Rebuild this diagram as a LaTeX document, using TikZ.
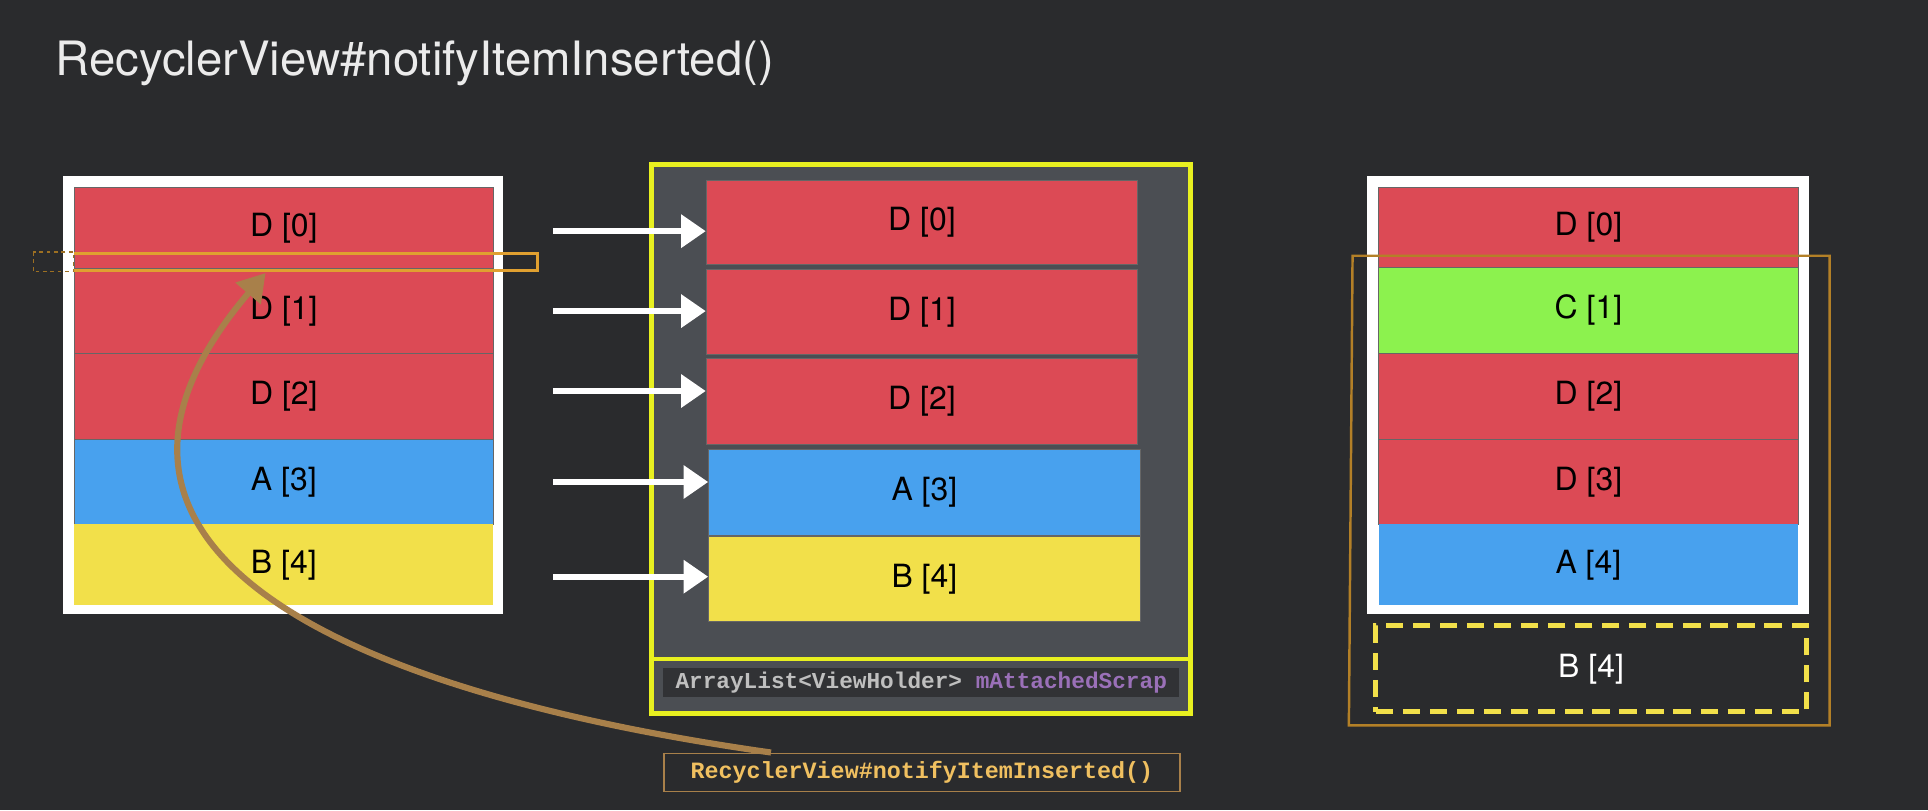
\documentclass[tikz,border=0pt]{standalone}
\usepackage{fontspec}
\setmainfont{TeX Gyre Heros}
\setmonofont{Liberation Mono}
\usetikzlibrary{arrows.meta}
\definecolor{bg}{HTML}{2A2B2D}
\definecolor{rd}{HTML}{DC4A55}
\definecolor{bl}{HTML}{48A1EE}
\definecolor{yl}{HTML}{F2E04A}
\definecolor{gr}{HTML}{8CF24E}
\definecolor{panel}{HTML}{4B4E53}
\definecolor{hl}{HTML}{E8F020}
\definecolor{org}{HTML}{E0A030}
\definecolor{brn}{HTML}{A8804A}
\definecolor{lbl}{HTML}{F0C060}
\definecolor{purp}{HTML}{9A70B8}
\tikzset{
 row/.style={draw=black!60,line width=0.6pt,font=\fontsize{26}{26}\selectfont,text=black},
 warr/.style={white,line width=5pt,-{Triangle[length=20pt,width=26pt]}},
}
\begin{document}
\begin{tikzpicture}[x=1pt,y=-1pt]
\fill[bg] (0,0) rectangle (1568,659);
\useasboundingbox (0,0) rectangle (1568,659);
\node[anchor=base west,text=white!92!black,font=\fontsize{38.5}{38.5}\selectfont,inner sep=0] (title) at (45,61) {RecyclerView\#notifyItemInserted()};
% left
\fill[white] (51,143) rectangle (409,499);
\node[row,fill=rd,minimum width=341pt,minimum height=66pt,anchor=north west] (l0) at (60,152) {D [0]};
\node[row,fill=rd,minimum width=341pt,minimum height=69pt,anchor=north west] (l1) at (60,218) {D [1]};
\node[row,fill=rd,minimum width=341pt,minimum height=70pt,anchor=north west] (l2) at (60,287) {D [2]};
\node[row,fill=bl,minimum width=341pt,minimum height=69pt,anchor=north west] (l3) at (60,357) {A [3]};
\node[row,fill=yl,minimum width=341pt,minimum height=66pt,anchor=north west,draw=none] (l4) at (60,426) {B [4]};
\draw[org!70!black,dashed,line width=1pt] (27,205) rectangle (60,221);
\draw[org,line width=2.5pt] (60,206) -- (437,206) -- (437,220) -- (60,220);
% middle
\draw[hl,line width=4pt,fill=panel] (530,134) rectangle (968,580);
\draw[hl,line width=3pt] (530,536) -- (968,536);
\node[row,fill=rd,minimum width=351pt,minimum height=69pt,anchor=north west] (m0) at (574,146) {D [0]};
\node[row,fill=rd,minimum width=351pt,minimum height=69pt,anchor=north west] (m1) at (574,219) {D [1]};
\node[row,fill=rd,minimum width=351pt,minimum height=70pt,anchor=north west] (m2) at (574,291) {D [2]};
\node[row,fill=bl,minimum width=351pt,minimum height=70pt,anchor=north west] (m3) at (576,365) {A [3]};
\node[row,fill=yl,minimum width=351pt,minimum height=69pt,anchor=north west] (m4) at (576,436) {B [4]};
\node[fill=bg!80!panel,anchor=west,minimum width=420pt,minimum height=24pt,inner sep=2pt,font=\ttfamily\bfseries\fontsize{18.5}{18.5}\selectfont] (scrap) at (539,555) {\textcolor{white!75!black}{ArrayList<ViewHolder>} \textcolor{purp}{mAttachedScrap}};
\foreach \yy/\n in {188/0,253/1,318/2,392/3,469/4}{
  \coordinate (s\n) at (450,\yy);
  \draw[warr] (s\n) -- (m\n.west |- s\n);
}
% right
\fill[white] (1112,143) rectangle (1471,499);
\node[row,fill=rd,minimum width=341pt,minimum height=65pt,anchor=north west] (r0) at (1121,152) {D [0]};
\node[row,fill=gr,minimum width=341pt,minimum height=70pt,anchor=north west] (r1) at (1121,217) {C [1]};
\node[row,fill=rd,minimum width=341pt,minimum height=70pt,anchor=north west] (r2) at (1121,287) {D [2]};
\node[row,fill=rd,minimum width=341pt,minimum height=69pt,anchor=north west] (r3) at (1121,357) {D [3]};
\node[row,fill=bl,minimum width=341pt,minimum height=66pt,anchor=north west,draw=none] (r4) at (1121,426) {A [4]};
\draw[org!80!black,line width=2pt] (1100,208) -- (1488,208) -- (1488,590) -- (1097,590) -- cycle;
\node[draw=yl,dashed,dash pattern=on 14pt off 8pt,line width=4pt,minimum width=350pt,minimum height=70pt,anchor=north west,text=white,font=\fontsize{26}{26}\selectfont] (rb) at (1117,507) {B [4]};
% label and curve
\node[draw=brn,line width=1.5pt,fill=bg,minimum width=420pt,minimum height=31pt,anchor=north west,text=lbl,font=\ttfamily\bfseries\fontsize{19}{19}\selectfont] (call) at (539,612) {RecyclerView\#notifyItemInserted()};
\coordinate (tip) at (216,222);
\draw[brn,line width=5pt,-{Triangle[length=22pt,width=26pt]}] (call.north west)+(88,0) .. controls (260,560) and (30,440) .. (tip);
\end{tikzpicture}
\end{document}
